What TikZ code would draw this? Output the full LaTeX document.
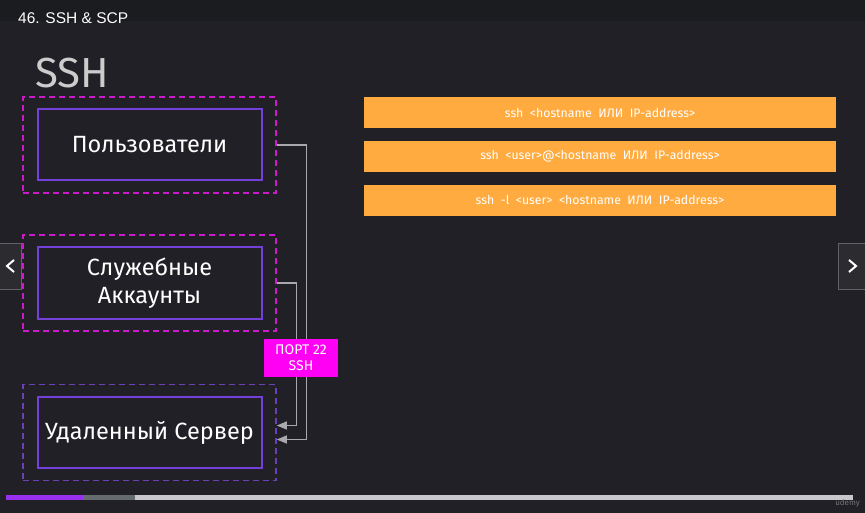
\documentclass[tikz,border=0pt]{standalone}
\usepackage{fontspec}
\setmainfont{Fira Sans}
\newfontfamily\titlefont{Liberation Sans}
\usetikzlibrary{arrows.meta,calc,positioning}
\definecolor{slidebg}{rgb}{0.13,0.125,0.15}
\definecolor{topbar}{rgb}{0.105,0.11,0.125}
\definecolor{dashmagenta}{rgb}{0.80,0.10,0.80}
\definecolor{dashviolet}{rgb}{0.42,0.25,0.72}
\definecolor{boxviolet}{rgb}{0.45,0.25,0.85}
\definecolor{portmagenta}{rgb}{1.00,0.00,0.96}
\definecolor{cmdorange}{rgb}{1.00,0.67,0.25}
\definecolor{linkgray}{rgb}{0.66,0.66,0.68}
\definecolor{navgray}{rgb}{0.17,0.17,0.19}
\definecolor{navedge}{rgb}{0.38,0.38,0.40}
\definecolor{barviolet}{rgb}{0.60,0.19,0.94}
\definecolor{bardark}{rgb}{0.40,0.42,0.44}
\definecolor{barlight}{rgb}{0.78,0.78,0.80}
\tikzset{
  rahmen/.style={
    draw=dashmagenta,
    dashed,
    dash pattern=on 6pt off 4pt,
    line width=1.6pt,
    minimum width=253pt,
    minimum height=96pt,
    inner sep=0pt
  },
  kasten/.style={
    draw=boxviolet,
    line width=2pt,
    fill=slidebg,
    align=center,
    text=white,
    minimum width=224pt,
    minimum height=71pt,
    inner sep=0pt,
    font=\fontsize{23.5}{28}\selectfont
  },
  befehl/.style={
    fill=cmdorange,
    text=white,
    minimum width=472pt,
    minimum height=31pt,
    inner sep=0pt,
    font=\fontsize{12.3}{14}\selectfont
  },
  port/.style={
    fill=portmagenta,
    text=white,
    align=center,
    minimum width=74pt,
    minimum height=38pt,
    inner sep=0pt,
    font=\fontsize{14}{16}\selectfont
  },
  navbox/.style={
    draw=navedge,
    fill=navgray,
    minimum width=22pt,
    minimum height=46pt,
    inner sep=0pt
  },
  link/.style={
    -{Triangle[length=10pt,width=8pt]},
    line width=1.2pt,
    linkgray
  }
}
\begin{document}
\begin{tikzpicture}[x=1pt,y=-1pt]
% Hintergrund
\fill[slidebg] (0,0) rectangle (865,513);
\fill[topbar] (0,0) rectangle (865,21);
\useasboundingbox (0,0) rectangle (865,513);
\node[anchor=base west,text=white,font=\titlefont\fontsize{15.5}{18}\selectfont,inner sep=0pt] (titel) at (18,24) {46. SSH \& SCP};
\node[anchor=base west,text=black!20,font=\fontsize{42}{48}\selectfont,inner sep=0pt] (kopf) at (35,88) {SSH};
% Kaesten links
\node[rahmen] (usrR) at (149.5,145) {};
\node[kasten] (usr) at (usrR.center) {Пользователи};
\node[rahmen] (svcR) at (149.5,283) {};
\node[kasten] (svc) at (svcR.center) {Служебные\\Аккаунты};
\node[rahmen,draw=dashviolet] (srvR) at (149.5,432.5) {};
\node[kasten] (srv) at (srvR.center) {Удаленный Сервер};
% Verbindungen
\draw[link] (usrR.east) -- ++(30,0) |- ([yshift=-7pt]srvR.east);
\draw[link] (svcR.east) -- ++(20,0) |- ([yshift=7pt]srvR.east);
\node[port] (p22) at (301,358) {ПОРТ 22\\SSH};
% Befehle rechts
\node[befehl] (b1) at (600,112.5) {ssh\ \ <hostname\ \ ИЛИ\ \ IP-address>};
\node[befehl,below=12.5pt of b1] (b2) {ssh\ \ <user>@<hostname\ \ ИЛИ\ \ IP-address>};
\node[befehl,below=12.5pt of b2] (b3) {ssh\ \ -l\ \ <user>\ \ <hostname\ \ ИЛИ\ \ IP-address>};
% Navigation
\node[navbox] (navL) at (10,266) {};
\draw[white,line width=2pt] ([xshift=4pt,yshift=6pt]navL.center) -- ([xshift=-3pt]navL.center) -- ([xshift=4pt,yshift=-6pt]navL.center);
\node[navbox,minimum width=28pt] (navR) at (852,266) {};
\draw[white,line width=2pt] ([xshift=-3pt,yshift=6pt]navR.center) -- ([xshift=4pt]navR.center) -- ([xshift=-3pt,yshift=-6pt]navR.center);
% Fortschritt
\fill[barviolet] (6,495) rectangle (83,500);
\fill[bardark] (83,495) rectangle (135,500);
\fill[barlight] (135,495) rectangle (853,500);
\node[anchor=east,text=black!55,font=\fontsize{8}{9}\selectfont,inner sep=0pt] (logo) at (860,503.5) {udemy};
\end{tikzpicture}
\end{document}
